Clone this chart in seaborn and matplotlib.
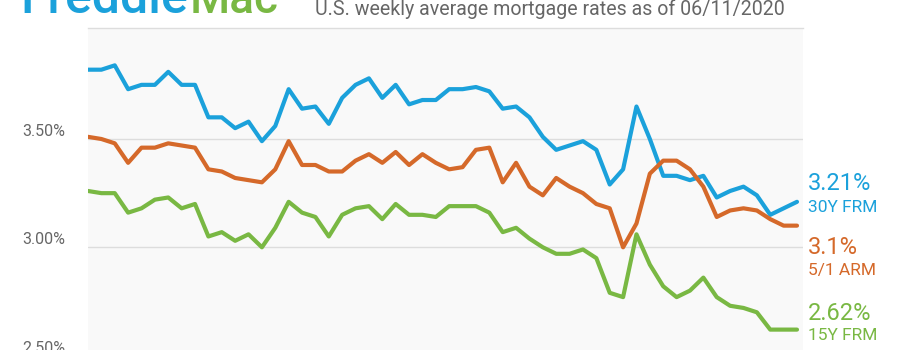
import numpy as np
import pandas as pd
import matplotlib
matplotlib.use("Agg")
import matplotlib.pyplot as plt
import matplotlib.transforms as mtransforms
import seaborn as sns

# ---- data (weekly, 06/06/2019 .. 06/11/2020) ----
dates = pd.date_range("2019-06-06", periods=54, freq="7D")
frm30 = [3.82, 3.82, 3.84, 3.73, 3.75, 3.75, 3.81, 3.75, 3.75, 3.60,
         3.60, 3.55, 3.58, 3.49, 3.56, 3.73, 3.64, 3.65, 3.57, 3.69,
         3.75, 3.78, 3.69, 3.75, 3.66, 3.68, 3.68, 3.73, 3.73, 3.74,
         3.72, 3.64, 3.65, 3.60, 3.51, 3.45, 3.47, 3.49, 3.45, 3.29,
         3.36, 3.65, 3.50, 3.33, 3.33, 3.31, 3.33, 3.23, 3.26, 3.28,
         3.24, 3.15, 3.18, 3.21]
arm51 = [3.51, 3.50, 3.48, 3.39, 3.46, 3.46, 3.48, 3.47, 3.46, 3.36,
         3.35, 3.32, 3.31, 3.30, 3.36, 3.49, 3.38, 3.38, 3.35, 3.35,
         3.40, 3.43, 3.39, 3.44, 3.38, 3.43, 3.39, 3.36, 3.37, 3.45,
         3.46, 3.30, 3.39, 3.28, 3.24, 3.32, 3.28, 3.25, 3.20, 3.18,
         3.00, 3.11, 3.34, 3.40, 3.40, 3.36, 3.28, 3.14, 3.17, 3.18,
         3.17, 3.13, 3.10, 3.10]
frm15 = [3.26, 3.25, 3.25, 3.16, 3.18, 3.22, 3.23, 3.18, 3.20, 3.05,
         3.07, 3.03, 3.06, 3.00, 3.09, 3.21, 3.16, 3.14, 3.05, 3.15,
         3.18, 3.19, 3.13, 3.20, 3.15, 3.15, 3.14, 3.19, 3.19, 3.19,
         3.16, 3.07, 3.09, 3.04, 3.00, 2.97, 2.97, 2.99, 2.95, 2.79,
         2.77, 3.06, 2.92, 2.82, 2.77, 2.80, 2.86, 2.77, 2.73, 2.72,
         2.70, 2.62, 2.62, 2.62]
series_names = ["30Y FRM", "5/1 ARM", "15Y FRM"]
end_labels = ["3.21%", "3.1%", "2.62%"]
y_ticks = [2.5, 3.0, 3.5]
y_tick_labels = ["2.50%", "3.00%", "3.50%"]
title = "U.S. weekly average mortgage rates as of 06/11/2020"

colors = ["#1ba1db", "#d5692a", "#79b843"]

df = pd.DataFrame({"date": np.tile(dates, 3),
                   "rate": frm30 + arm51 + frm15,
                   "series": np.repeat(series_names, len(dates))})

sns.set_theme(style="white")
plt.rcParams["font.family"] = ["Roboto", "DejaVu Sans"]

fig = plt.figure(figsize=(9, 3.5), dpi=100)
W, H = 900, 350
left, right = 88 / W, 803 / W
px_per_unit = 216.6
top_px = 28
ymax = 3.5 + (139 - top_px) / px_per_unit
ymin = 2.45
bottom_px = top_px + (ymax - ymin) * px_per_unit
ax = fig.add_axes([left, 1 - bottom_px / H, right - left, (bottom_px - top_px) / H])
ax.set_facecolor("#f9f9f9")

sns.lineplot(data=df, x="date", y="rate", hue="series", palette=colors,
             linewidth=3.0, legend=False, ax=ax, solid_joinstyle="round",
             solid_capstyle="round")

# x range: lines from x=88 to x=797 px, axes to 803
span_days = (dates[-1] - dates[0]).days
extra = span_days * 6 / 709
ax.set_xlim(dates[0], dates[-1] + pd.Timedelta(days=extra))
ax.set_ylim(ymin, ymax)
ax.set_xticks([])
ax.set_xlabel("")
ax.set_ylabel("")
ax.set_yticks(y_ticks)
ax.set_yticklabels(y_tick_labels, color="#666666", fontsize=11.5)
ax.tick_params(axis="y", length=0, pad=16.5)
offset = mtransforms.ScaledTranslation(0, 6.5 / 72, fig.dpi_scale_trans)
for lab in ax.get_yticklabels():
    lab.set_transform(lab.get_transform() + offset)
ax.grid(axis="y", color="#dddddd", linewidth=1.0)
ax.set_axisbelow(True)
for s in ["left", "right", "bottom"]:
    ax.spines[s].set_visible(False)
ax.spines["top"].set_color("#dddddd")
ax.spines["top"].set_linewidth(1.0)

# right-side labels
label_centers = [(184, 207), (248, 271), (313, 336)]
for (yv, yn), val, name, c in zip(label_centers, end_labels, series_names, colors):
    fig.text(808 / W, 1 - yv / H, val, color=c, fontsize=17,
             ha="left", va="center")
    fig.text(808 / W, 1 - yn / H, name, color=c, fontsize=12.5,
             ha="left", va="center")

# logo and title
fig.text(20 / W, 1 - 13 / H, "Freddie", color="#1ba1db", fontsize=36,
         ha="left", va="baseline", weight="medium")
fig.text(190 / W, 1 - 13 / H, "Mac", color="#79b843", fontsize=33,
         ha="left", va="baseline", weight="medium")
fig.text(315 / W, 1 - 15 / H, title, color="#666666", fontsize=14.1,
         ha="left", va="baseline")

fig.savefig("out.png", dpi=100, facecolor="white")
